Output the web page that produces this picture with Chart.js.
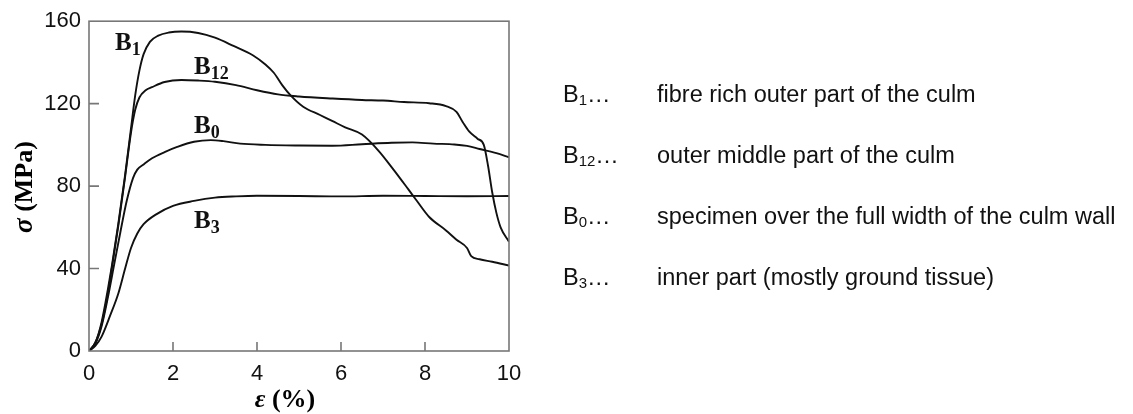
<!DOCTYPE html>
<html>
<head>
<meta charset="utf-8">
<script src="https://cdn.jsdelivr.net/npm/chart.js@4.4.1/dist/chart.umd.min.js"></script>
<style>
  html, body { margin: 0; padding: 0; background: #fff; overflow: hidden; }
  #wrap { width: 1133px; height: 414px; }
</style>
</head>
<body>
<div id="wrap"><canvas id="c" width="1133" height="414"></canvas></div>
<script>
// Stress-strain curves of bamboo culm specimens
var strainB1 = [0, 0.15, 0.3, 0.45, 0.55, 0.7, 0.85, 1.0, 1.1, 1.2, 1.3, 1.45, 1.65, 1.9, 2.2, 2.6, 3.0, 3.44, 3.9, 4.2, 4.4, 4.6, 4.8, 5.1, 5.5, 5.8, 6.1, 6.5, 6.9, 7.25, 7.6, 7.8, 8.1, 8.5, 8.75, 9.0, 9.1, 9.3, 9.6, 10];
var stressB1 = [0, 4, 14, 30, 42, 62, 84, 108, 124, 136, 144, 150, 153, 154.5, 155, 154.3, 152, 148, 143.5, 139, 135, 129, 124, 118.5, 114.5, 111.5, 108.5, 105, 97, 88, 78.5, 73, 65, 58.5, 54, 50, 46, 44.5, 43.3, 41.5];

var strainB12 = [0, 0.15, 0.3, 0.45, 0.55, 0.7, 0.85, 1.0, 1.1, 1.2, 1.35, 1.5, 1.8, 2.2, 2.6, 3.0, 3.5, 4.0, 4.5, 5.0, 5.8, 6.5, 7.0, 7.5, 8.1, 8.5, 8.75, 8.9, 9.05, 9.25, 9.4, 9.5, 9.6, 9.7, 9.8, 10];
var stressB12 = [0, 4, 13, 28, 41, 61, 83, 106, 117, 123, 126.5, 128, 130.5, 131.5, 131.2, 130.6, 129, 126.5, 124.5, 123.5, 122.5, 121.8, 121.5, 120.8, 120.2, 118.8, 116, 111, 106.5, 103, 100, 90, 77, 67, 60, 53];

var strainB0 = [0, 0.15, 0.3, 0.45, 0.6, 0.75, 0.9, 1.05, 1.15, 1.3, 1.5, 1.8, 2.1, 2.5, 2.9, 3.2, 3.6, 4.2, 5.0, 5.8, 6.5, 7.2, 7.7, 8.2, 8.7, 9.0, 9.3, 9.7, 10];
var stressB0 = [0, 3.5, 12, 26, 42, 58, 73, 84, 88, 90.5, 93.5, 96.5, 99, 101.5, 102.3, 101.8, 100.6, 100, 99.7, 99.6, 100.3, 101, 101.2, 100.6, 100.2, 99.5, 98, 96, 94];

var strainB3 = [0, 0.15, 0.3, 0.5, 0.7, 0.86, 1.0, 1.15, 1.3, 1.6, 2.0, 2.5, 3.0, 3.5, 4.0, 5.0, 6.0, 7.0, 8.0, 9.0, 10];
var stressB3 = [0, 2.5, 7, 17, 28, 40, 50, 57, 61.5, 66.3, 70.4, 72.8, 74.4, 75, 75.3, 75.2, 75, 75.3, 75.2, 75.1, 75.2];

var xTicks = [0, 2, 4, 6, 8, 10];
var yTicks = [0, 40, 80, 120, 160];

// curve labels (name, subscript) and their anchor in data units [strain, stress]
var curveNames = ['B', 'B', 'B', 'B'];
var curveSubs = ['1', '12', '0', '3'];
var curveLabelAt = [[0.62, 146], [2.5, 134.6], [2.5, 105.7], [2.5, 59.9]];

// description list on the right
var legendSubs = ['1', '12', '0', '3'];
var legendText = [
  'fibre rich outer part of the culm',
  'outer middle part of the culm',
  'specimen over the full width of the culm wall',
  'inner part (mostly ground tissue)'
];

function pairs(xs, ys) {
  return xs.map(function (x, i) { return { x: x, y: ys[i] }; });
}

function seriesStyle(data) {
  return {
    data: data,
    borderColor: '#111',
    borderWidth: 1.9,
    pointRadius: 0,
    fill: false,
    cubicInterpolationMode: 'monotone'
  };
}

// draws base + lowered smaller subscript + optional tail, returns end x
function drawSubText(ctx, base, sub, tail, x, y, font, subFont, drop) {
  ctx.font = font;
  ctx.fillText(base, x, y);
  x += ctx.measureText(base).width;
  ctx.font = subFont;
  ctx.fillText(sub, x, y + drop);
  x += ctx.measureText(sub).width;
  if (tail) {
    ctx.font = font;
    ctx.fillText(tail, x, y);
    x += ctx.measureText(tail).width;
  }
  return x;
}

var framePlugin = {
  id: 'frameAndText',
  afterDraw: function (chart) {
    var ctx = chart.ctx;
    var a = chart.chartArea;
    var xs = chart.scales.x, ys = chart.scales.y;
    ctx.save();

    // frame
    ctx.strokeStyle = '#777';
    ctx.lineWidth = 1.6;
    ctx.strokeRect(a.left, a.top, a.right - a.left, a.bottom - a.top);

    // inward ticks
    ctx.beginPath();
    xTicks.forEach(function (v) {
      if (v === 0 || v === 10) return;
      var px = xs.getPixelForValue(v);
      ctx.moveTo(px, a.bottom);
      ctx.lineTo(px, a.bottom - 9);
    });
    yTicks.forEach(function (v) {
      if (v === 0 || v === 160) return;
      var py = ys.getPixelForValue(v);
      ctx.moveTo(a.left, py);
      ctx.lineTo(a.left + 10, py);
    });
    ctx.stroke();

    // curve labels
    ctx.fillStyle = '#111';
    ctx.textBaseline = 'alphabetic';
    ctx.textAlign = 'left';
    curveNames.forEach(function (n, i) {
      var p = curveLabelAt[i];
      drawSubText(ctx, n, curveSubs[i], '', xs.getPixelForValue(p[0]), ys.getPixelForValue(p[1]),
        'bold 25px "Liberation Serif"', 'bold 18px "Liberation Serif"', 5);
    });

    // axis titles
    ctx.fillStyle = '#000';
    ctx.font = 'italic bold 26px "Liberation Serif"';
    var eW = ctx.measureText('\u03b5').width;
    ctx.font = 'bold 26px "Liberation Serif"';
    var rW = ctx.measureText(' (%)').width;
    var cx = 285 - (eW + rW) / 2;
    ctx.textBaseline = 'middle';
    ctx.font = 'italic bold 26px "Liberation Serif"';
    ctx.fillText('\u03b5', cx, 400);
    ctx.font = 'bold 26px "Liberation Serif"';
    ctx.fillText(' (%)', cx + eW, 400);

    ctx.save();
    ctx.translate(25, 187);
    ctx.rotate(-Math.PI / 2);
    ctx.font = 'italic bold 27px "Liberation Serif"';
    var sW = ctx.measureText('\u03c3').width;
    ctx.font = 'bold 26px "Liberation Serif"';
    var mW = ctx.measureText(' (MPa)').width;
    var sx = -(sW + mW) / 2;
    ctx.font = 'italic bold 27px "Liberation Serif"';
    ctx.fillText('\u03c3', sx, 0);
    ctx.font = 'bold 26px "Liberation Serif"';
    ctx.fillText(' (MPa)', sx + sW, 0);
    ctx.restore();

    // description list
    ctx.fillStyle = '#111';
    ctx.textBaseline = 'alphabetic';
    legendText.forEach(function (t, i) {
      var by = 102 + i * 61;
      drawSubText(ctx, 'B', legendSubs[i], '\u2026', 563, by,
        '23.5px "Liberation Sans"', '15px "Liberation Sans"', 3);
      ctx.font = '23.5px "Liberation Sans"';
      ctx.fillText(t, 657, by);
    });

    ctx.restore();
  }
};

new Chart(document.getElementById('c').getContext('2d'), {
  type: 'line',
  data: {
    datasets: [
      seriesStyle(pairs(strainB1, stressB1)),
      seriesStyle(pairs(strainB12, stressB12)),
      seriesStyle(pairs(strainB0, stressB0)),
      seriesStyle(pairs(strainB3, stressB3))
    ]
  },
  options: {
    responsive: false,
    animation: false,
    layout: { padding: { left: 0, right: 624, top: 19, bottom: 0 } },
    plugins: { legend: { display: false }, tooltip: { enabled: false } },
    scales: {
      x: {
        type: 'linear',
        min: 0,
        max: 10,
        afterBuildTicks: function (s) { s.ticks = xTicks.map(function (v) { return { value: v }; }); },
        afterFit: function (s) { s.height = 63; },
        grid: { display: false, drawTicks: false },
        border: { display: false },
        ticks: { color: '#111', padding: 10, maxRotation: 0, font: { family: 'Liberation Sans', size: 22 } }
      },
      y: {
        min: 0,
        max: 160,
        afterBuildTicks: function (s) { s.ticks = yTicks.map(function (v) { return { value: v }; }); },
        afterFit: function (s) { s.width = 89; },
        grid: { display: false, drawTicks: false },
        border: { display: false },
        ticks: { color: '#111', padding: 8, font: { family: 'Liberation Sans', size: 22 } }
      }
    }
  },
  plugins: [framePlugin]
});
</script>
</body>
</html>
